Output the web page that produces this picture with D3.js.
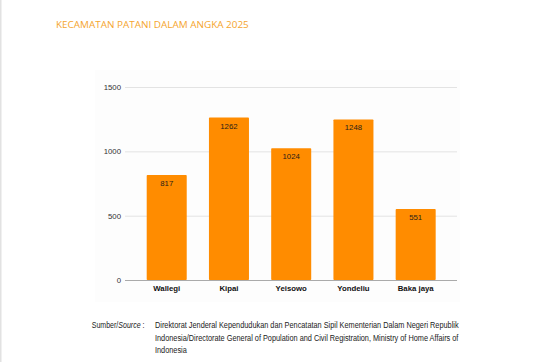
<!DOCTYPE html>
<html><head><meta charset="utf-8">
<script src="https://cdn.jsdelivr.net/npm/d3@7/dist/d3.min.js"></script>
<style>body{margin:0;background:#fff}svg{display:block}</style>
</head><body>
<script>
const categories = ["Wallegi","Kipai","Yeisowo","Yondeliu","Baka jaya"];
const values = [817,1262,1024,1248,551];
const yTicks = [0,500,1000,1500];
const title = "KECAMATAN PATANI DALAM ANGKA 2025";
const sourceLabel = ["Sumber/","Source"," :"];
const sourceLines = [
 "Direktorat Jenderal Kependudukan dan Pencatatan Sipil Kementerian Dalam Negeri Republik",
 "Indonesia/Directorate General of Population and Civil Registration, Ministry of Home Affairs of",
 "Indonesia"
];

const W=534,H=362;
const svg=d3.select("body").append("svg").attr("width",W).attr("height",H);
svg.append("rect").attr("x",0).attr("y",0).attr("width",1.5).attr("height",H).attr("fill","#e2e2e2");
svg.append("rect").attr("x",95).attr("y",70).attr("width",365).attr("height",232).attr("fill","#fdfdfd");

function fitText(sel, x, yb, targetW){
  const nat = sel.node().getComputedTextLength();
  sel.attr("transform",`translate(${x},${yb}) scale(${targetW/nat},1)`);
  return targetW/nat;
}

const tt=svg.append("text").attr("font-family","Open Sans, Noto Sans, sans-serif")
 .attr("font-size",9.6).attr("fill","#f5a52e").text(title);
fitText(tt,56,28,193);

const y=d3.scaleLinear().domain([0,1500]).range([280,87]);
const xb=d3.scaleBand().domain(categories).range([135.6,446.8]).paddingInner(0.357).paddingOuter(0.1785);

const g=svg.append("g");
const yAxis=d3.axisLeft(y).tickValues(yTicks).tickSize(-332).tickFormat(d3.format("d"));
const ya=g.append("g").attr("transform","translate(125,0)").call(yAxis);
ya.select(".domain").remove();
ya.selectAll(".tick line").attr("stroke","#e3e3e3").attr("stroke-width",1);
ya.selectAll(".tick text").attr("x",-4).attr("font-family","Liberation Sans, Arial, sans-serif").attr("font-size",7.8).attr("fill","#333");
ya.selectAll(".tick").filter(d=>d===0).select("line").attr("stroke","#aaaaaa");

g.selectAll("rect.bar").data(values).join("rect").attr("class","bar")
 .attr("x",(d,i)=>xb(categories[i])).attr("width",xb.bandwidth())
 .attr("y",d=>y(d)).attr("height",d=>y(0)-y(d)).attr("fill","#ff8c00").attr("rx",0.8);
svg.append("line").attr("x1",125).attr("x2",457).attr("y1",280.5).attr("y2",280.5).attr("stroke","#aaa");

g.selectAll("text.val").data(values).join("text").attr("class","val")
 .attr("x",(d,i)=>xb(categories[i])+xb.bandwidth()/2).attr("y",d=>y(d)+11)
 .attr("text-anchor","middle").attr("font-family","Liberation Sans, Arial, sans-serif")
 .attr("font-size",7.8).attr("fill","#2a2218").text(d=>d);

const xAxis=d3.axisBottom(xb).tickSize(0);
const xa=g.append("g").attr("transform","translate(0,280)").call(xAxis);
xa.select(".domain").remove();
xa.selectAll(".tick text").attr("dy",0).attr("y",11).attr("font-family","Liberation Sans, Arial, sans-serif")
 .attr("font-size",7.8).attr("font-weight","bold").attr("fill","#111");

const sf="Liberation Sans, Arial, sans-serif";
const st=svg.append("text").attr("font-family",sf).attr("font-size",9.4).attr("fill","#222");
sourceLabel.forEach((t,i)=>st.append("tspan").attr("font-style",i===1?"italic":"normal").text(t));
fitText(st,91.7,328,52.8);

const lines=sourceLines.map(l=>svg.append("text").attr("font-family",sf).attr("font-size",9.4).attr("fill","#222").text(l));
const s = fitText(lines[1],155,340.5,303);
lines.forEach((t,i)=>{ if(i!==1) t.attr("transform",`translate(155,${328+i*12.5}) scale(${s},1)`); });
</script>
</body></html>
